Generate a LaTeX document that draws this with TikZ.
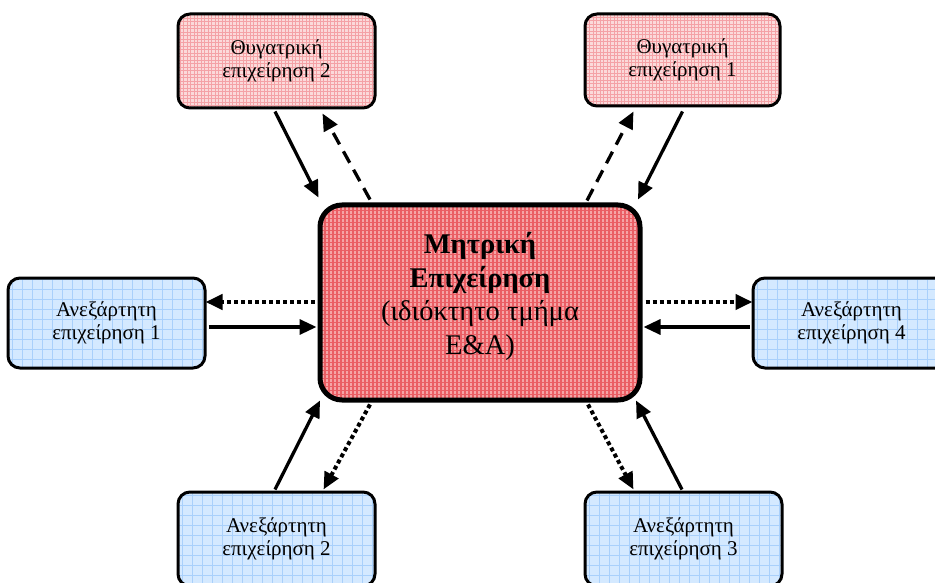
\documentclass[tikz,border=0pt]{standalone}
\usepackage{fontspec}
\setmainfont{Liberation Serif}
\usetikzlibrary{arrows.meta,calc}

\definecolor{redbase}{HTML}{F5A4A6}
\definecolor{redgrid}{HTML}{EA5E64}
\definecolor{pinkbase}{HTML}{FBDADA}
\definecolor{pinkgrid}{HTML}{F4A2A6}
\definecolor{bluebase}{HTML}{D4E9FF}
\definecolor{bluegrid}{HTML}{A9D0FB}

\tikzset{
  smallbox/.style={draw=black, line width=3pt, rounded corners=12pt,
    minimum width=197pt, minimum height=92pt, align=center,
    font=\fontsize{21}{22.5}\selectfont, inner sep=0pt},
  daughter/.style={smallbox,
    fill=pinkbase,
    path picture={\draw[pinkgrid, line width=0.8pt]
      (path picture bounding box.south west) grid[step=3.5pt]
      (path picture bounding box.north east);}},
  independent/.style={smallbox,
    fill=bluebase,
    path picture={\draw[bluegrid, line width=0.9pt]
      (path picture bounding box.south west) grid[step=10pt]
      (path picture bounding box.north east);}},
  parentbox/.style={draw=black, line width=5pt, rounded corners=22pt,
    minimum width=320pt, minimum height=195pt, align=center,
    font=\fontsize{28.5}{33.5}\selectfont, inner sep=0pt, text depth=18pt,
    fill=redbase,
    path picture={\draw[redgrid, line width=1.2pt]
      (path picture bounding box.south west) grid[step=4pt]
      (path picture bounding box.north east);}},
  flow/.style={line width=3.3pt, -{Triangle[length=17pt,width=15pt]}},
  solidflow/.style={flow},
  dashflow/.style={flow, dash pattern=on 13pt off 8pt},
  dotflow/.style={flow, line width=4pt, dash pattern=on 4pt off 3pt}
}

\begin{document}
\begin{tikzpicture}[x=1pt, y=-1pt]
  \useasboundingbox (0,0) rectangle (935,583);

  % parent company in the middle
  \node[parentbox] (c) at (480,302.5)
    {\textbf{Μητρική}\\\textbf{Επιχείρηση}\\(ιδιόκτητο τμήμα\\Ε\&Α)};

  % subsidiaries
  \node[daughter, minimum height=94pt] (t2) at (276.5,61) {Θυγατρική\\επιχείρηση 2};
  \node[daughter, minimum width=195pt] (t1) at (682.5,60) {Θυγατρική\\επιχείρηση 1};

  % independent companies
  \node[independent, minimum height=90pt] (a1) at (106.5,323) {Ανεξάρτητη\\επιχείρηση 1};
  \node[independent, minimum height=90pt] (a4) at (851.5,323) {Ανεξάρτητη\\επιχείρηση 4};
  \node[independent, minimum height=94pt] (a2) at (276.5,539) {Ανεξάρτητη\\επιχείρηση 2};
  \node[independent, minimum height=94pt] (a3) at (683.5,539) {Ανεξάρτητη\\επιχείρηση 3};

  % subsidiary 2
  \draw[solidflow] ($(t2.south)+(-1.5,2)$) -- ($(c.north west)+(1,-5)$);
  \draw[dashflow]  ($(c.north)+(-110,-3)$) -- ($(t2.south)+(46,4)$);

  % subsidiary 1
  \draw[dashflow]  ($(c.north)+(107,-2)$) -- ($(t1.south)+(-49,4)$);
  \draw[solidflow] ($(t1.south)+(0,4)$) -- ($(c.north)+(158,-3)$);

  % independent 1
  \draw[dotflow]   ($(c.west)+(-3,-0.5)$) -- ($(a1.east)+(-1,-21)$);
  \draw[solidflow] ($(a1.east)+(2,4)$) -- ($(c.west)+(-1,24.5)$);

  % independent 4
  \draw[dotflow]   ($(c.east)+(3,-0.5)$) -- ($(a4.west)+(1,-21)$);
  \draw[solidflow] ($(a4.west)+(-2,4)$) -- ($(c.east)+(1,24.5)$);

  % independent 2
  \draw[solidflow] ($(a2.north)+(-1.5,-1)$) -- ($(c.south)+(-160,-2)$);
  \draw[dotflow]   ($(c.south)+(-110,2)$) -- ($(a2.north)+(47,-1)$);

  % independent 3
  \draw[dotflow]   ($(c.south)+(108,2)$) -- ($(a3.north)+(-50,-1)$);
  \draw[solidflow] ($(a3.north)+(-1.5,-1)$) -- ($(c.south)+(156,-2)$);
\end{tikzpicture}
\end{document}
